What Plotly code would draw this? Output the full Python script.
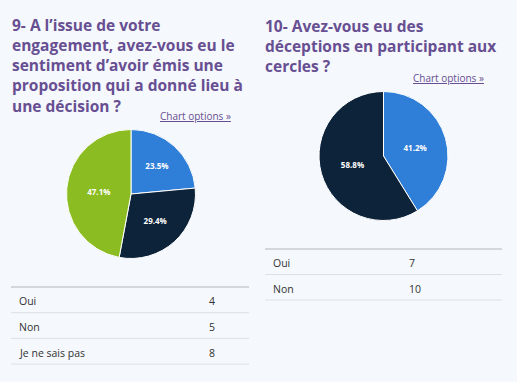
import plotly.graph_objects as go

W, H = 517, 382

# ---- data ----
q9_title = "9- A l\u2019issue de votre<br>engagement, avez-vous eu le<br>sentiment d\u2019avoir \u00e9mis une<br>proposition qui a donn\u00e9 lieu \u00e0<br>une d\u00e9cision ?"
q9_labels = ["Oui", "Non", "Je ne sais pas"]
q9_values = [4, 5, 8]

q10_title = "10- Avez-vous eu des<br>d\u00e9ceptions en participant aux<br>cercles ?"
q10_labels = ["Oui", "Non"]
q10_values = [7, 10]

colors = ["#2f7ed8", "#0d233a", "#8bbc21"]
purple = "#674f92"
bg = "#f5f8fc"


def px(x):
    return x / W


def py(y):
    return 1 - y / H


fig = go.Figure()

def add_pie(labels, values, cx, cy, r):
    fig.add_trace(go.Pie(
        labels=labels, values=values, sort=False, direction="clockwise",
        rotation=0,
        marker=dict(colors=colors[:len(values)], line=dict(color="white", width=1)),
        texttemplate="<b>%{percent:.1%}</b>", textposition="inside",
        insidetextorientation="horizontal",
        textfont=dict(color="white", size=8, family="Open Sans"),
        domain=dict(x=[px(cx - r), px(cx + r)], y=[py(cy + r), py(cy - r)]),
        showlegend=False, hoverinfo="label+value+percent",
    ))

add_pie(q9_labels, q9_values, 131, 194, 64.5)
add_pie(q10_labels, q10_values, 383.5, 156, 64.5)

annotations = []
shapes = []

def title(text, x, y):
    annotations.append(dict(text="<b>" + text + "</b>", x=px(x), y=py(y), xref="paper", yref="paper",
                            xanchor="left", yanchor="top", align="left", showarrow=False,
                            font=dict(family="Open Sans", size=15.5, color=purple)))

def link(x, y):
    annotations.append(dict(text="<u>Chart options \u00bb</u>", x=px(x), y=py(y), xref="paper", yref="paper",
                            xanchor="right", yanchor="middle", showarrow=False,
                            font=dict(family="Open Sans", size=10, color=purple)))

def table(labels, values, x0, x1, xv, top, step):
    shapes.append(dict(type="line", xref="paper", yref="paper", x0=px(x0), x1=px(x1),
                       y0=py(top), y1=py(top), line=dict(color="#c9cdd3", width=1.5)))
    for i, (lab, val) in enumerate(zip(labels, values)):
        yc = top + step * (i + 0.5) + 1.5
        annotations.append(dict(text=lab, x=px(x0 + 6), y=py(yc), xref="paper", yref="paper",
                                xanchor="left", yanchor="middle", showarrow=False,
                                font=dict(family="Open Sans", size=10.5, color="#333333")))
        annotations.append(dict(text=str(val), x=px(xv), y=py(yc), xref="paper", yref="paper",
                                xanchor="left", yanchor="middle", showarrow=False,
                                font=dict(family="Open Sans", size=10.5, color="#333333")))
        yl = top + step * (i + 1)
        shapes.append(dict(type="line", xref="paper", yref="paper", x0=px(x0), x1=px(x1),
                           y0=py(yl), y1=py(yl), line=dict(color="#dde1e7", width=1)))

title(q9_title, 10, 12)
title(q10_title, 263, 13)
link(233, 116)
link(486, 78)
table(q9_labels, q9_values, 11, 249, 207, 287, 25.7)
table(q10_labels, q10_values, 265, 502, 407, 249, 25.5)

fig.update_layout(width=W, height=H, margin=dict(l=0, r=0, t=0, b=0),
                  paper_bgcolor=bg, plot_bgcolor=bg,
                  annotations=annotations, shapes=shapes)

fig.write_html("out.html", config={"displayModeBar": False},
               post_script="document.body.style.margin='0';document.body.style.background='%s';" % bg)
